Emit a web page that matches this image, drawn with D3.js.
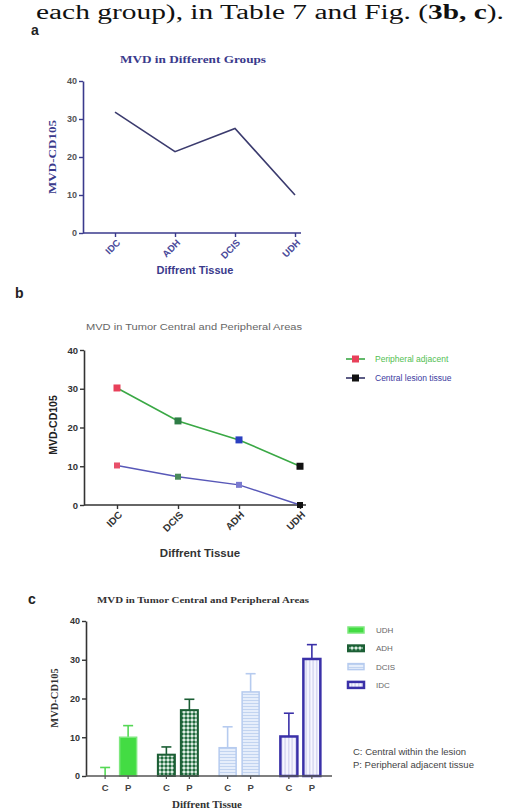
<!DOCTYPE html>
<html><head><meta charset="utf-8">
<script src="https://cdn.jsdelivr.net/npm/d3@7"></script>
<style>body{margin:0;background:#fff}svg{display:block}</style>
</head><body>
<script>
// ---------- data ----------
const yTicks = [0, 10, 20, 30, 40];
const catsA = ["IDC", "ADH", "DCIS", "UDH"];
const valsA = [31.8, 21.4, 27.5, 10.0];
const catsB = ["IDC", "DCIS", "ADH", "UDH"];
const peripheral = [30.2, 21.7, 16.8, 10.0];
const central = [10.2, 7.3, 5.2, 0.0];
const seriesB = ["Peripheral adjacent", "Central  lesion tissue"];
const groupsC = ["UDH", "ADH", "DCIS", "IDC"];
const sidesC = ["C", "P"];
const centralMean = [0.0, 5.5, 7.3, 10.2];
const centralErr = [2.2, 2.0, 5.4, 6.0];
const periphMean = [10.0, 17.0, 21.7, 30.2];
const periphErr = [3.0, 2.8, 4.7, 3.7];
const legendC = ["UDH", "ADH", "DCIS", "IDC"];
const noteC = ["C: Central within the lesion", "P: Peripheral adjacent tissue"];

const W = 528, H = 810;
const svg = d3.select("body").append("svg").attr("width", W).attr("height", H);
svg.append("rect").attr("width", W).attr("height", H).attr("fill", "#fff");

const SANS = "Liberation Sans, Arial, sans-serif";
const SERIF = "Liberation Serif, Times New Roman, serif";

// top text fragment from the source page
const topText = svg.append("text").attr("x", 36).attr("y", 19)
  .attr("font-family", SERIF).attr("font-size", 20)
  .attr("fill", "#111").attr("textLength", 468).attr("lengthAdjust", "spacingAndGlyphs");
topText.append("tspan").text("each group), in Table 7 and Fig. (");
topText.append("tspan").attr("font-weight", "bold").text("3b, c");
topText.append("tspan").text(").");

// panel letters
[["a", 31, 35], ["b", 15, 298], ["c", 28, 604]].forEach(([t, x, y]) =>
  svg.append("text").attr("x", x).attr("y", y).attr("font-family", SANS)
    .attr("font-weight", "bold").attr("font-size", 14).attr("fill", "#222").text(t));

function yAxis(g, y, x0, color, tcolor, fsize) {
  const ax = g.append("g").attr("transform", `translate(${x0},0)`)
    .call(d3.axisLeft(y).tickValues(yTicks).tickSize(4).tickSizeOuter(0).tickPadding(2));
  ax.select(".domain").attr("stroke", color).attr("stroke-width", 1.6);
  ax.selectAll(".tick line").attr("stroke", color).attr("stroke-width", 1.4);
  ax.selectAll(".tick text").attr("font-family", SANS).attr("font-weight", "bold")
    .attr("font-size", fsize).attr("fill", tcolor);
  return ax;
}

function rotLabels(xa, size, color) {
  xa.selectAll(".tick text").attr("font-family", SANS).attr("font-weight", "bold")
    .attr("font-size", size).attr("fill", color).attr("text-anchor", "end")
    .attr("y", 0).attr("dy", "0.35em").attr("transform", "translate(3,8) rotate(-45)");
}

// ---------- panel a ----------
{
  const g = svg.append("g");
  const x = d3.scalePoint().domain(catsA).range([115, 295]);
  const y = d3.scaleLinear().domain([0, 40]).range([233, 81]);
  const navy = "#3a3a8c";
  yAxis(g, y, 83, navy, "#555", 9);
  g.append("line").attr("x1", 83).attr("x2", 301).attr("y1", y(0)).attr("y2", y(0))
    .attr("stroke", navy).attr("stroke-width", 1.6);
  const xa = g.append("g").attr("transform", `translate(0,${y(0)})`)
    .call(d3.axisBottom(x).tickSize(4).tickSizeOuter(0));
  xa.select(".domain").remove();
  xa.selectAll(".tick line").attr("stroke", navy).attr("stroke-width", 1.4);
  rotLabels(xa, 9.5, "#4a4a9a");
  g.append("path").datum(valsA)
    .attr("d", d3.line().x((d, i) => x(catsA[i])).y(d => y(d)))
    .attr("fill", "none").attr("stroke", "#3b3b6e").attr("stroke-width", 1.6);
  g.append("text").attr("x", 193).attr("y", 63).attr("text-anchor", "middle")
    .attr("font-family", SERIF).attr("font-weight", "bold").attr("font-size", 10)
    .attr("fill", "#3a3a8c").attr("textLength", 146).attr("lengthAdjust", "spacingAndGlyphs")
    .text("MVD in Different Groups");
  g.append("text").attr("transform", "translate(56,157) rotate(-90)").attr("text-anchor", "middle")
    .attr("font-family", SERIF).attr("font-weight", "bold").attr("font-size", 10)
    .attr("fill", "#3a3a8c").attr("textLength", 74).attr("lengthAdjust", "spacingAndGlyphs")
    .text("MVD-CD105");
  g.append("text").attr("x", 195).attr("y", 274).attr("text-anchor", "middle")
    .attr("font-family", SANS).attr("font-weight", "bold").attr("font-size", 11)
    .attr("fill", "#3a3a8c").text("Diffrent Tissue");
}

// ---------- panel b ----------
{
  const g = svg.append("g");
  const x = d3.scalePoint().domain(catsB).range([117, 300]);
  const y = d3.scaleLinear().domain([0, 40]).range([505, 350]);
  const ax = "#333";
  yAxis(g, y, 84, ax, "#333", 9.5);
  g.append("line").attr("x1", 84).attr("x2", 306).attr("y1", y(0)).attr("y2", y(0))
    .attr("stroke", ax).attr("stroke-width", 1.6);
  const xa = g.append("g").attr("transform", `translate(0,${y(0)})`)
    .call(d3.axisBottom(x).tickSize(4).tickSizeOuter(0));
  xa.select(".domain").remove();
  xa.selectAll(".tick line").attr("stroke", ax).attr("stroke-width", 1.4);
  rotLabels(xa, 10, "#333");
  const markerCols = ["#e8405a", "#2e7d46", "#2a3fc0", "#111111"];
  const centralMarkerCols = ["#e8506a", "#4a8a5a", "#7a7ad0", "#111111"];
  const line = d3.line().x((d, i) => x(catsB[i])).y(d => y(d));
  g.append("path").datum(peripheral).attr("d", line).attr("fill", "none")
    .attr("stroke", "#3aa845").attr("stroke-width", 1.6);
  g.append("path").datum(central).attr("d", line).attr("fill", "none")
    .attr("stroke", "#5858b8").attr("stroke-width", 1.4);
  g.selectAll(".mp").data(peripheral).join("rect")
    .attr("x", (d, i) => x(catsB[i]) - 3.5).attr("y", d => y(d) - 3.5)
    .attr("width", 7).attr("height", 7).attr("fill", (d, i) => markerCols[i]);
  g.selectAll(".mc").data(central).join("rect")
    .attr("x", (d, i) => x(catsB[i]) - 3).attr("y", d => y(d) - 3)
    .attr("width", 6).attr("height", 6).attr("fill", (d, i) => centralMarkerCols[i]);
  g.append("text").attr("x", 194).attr("y", 330).attr("text-anchor", "middle")
    .attr("font-family", SANS).attr("font-size", 8.5).attr("fill", "#666")
    .attr("textLength", 216).attr("lengthAdjust", "spacingAndGlyphs")
    .text("MVD in Tumor Central and Peripheral Areas");
  g.append("text").attr("transform", "translate(57,425) rotate(-90)").attr("text-anchor", "middle")
    .attr("font-family", SANS).attr("font-weight", "bold").attr("font-size", 10.5)
    .attr("fill", "#222").text("MVD-CD105");
  g.append("text").attr("x", 200).attr("y", 557).attr("text-anchor", "middle")
    .attr("font-family", SANS).attr("font-weight", "bold").attr("font-size", 11.5)
    .attr("fill", "#333").text("Diffrent Tissue");
  // legend
  const lc = [["#3aa845", "#e8405a", "#52c052"], ["#333366", "#111", "#3a3aa0"]];
  seriesB.forEach((s, i) => {
    const yy = 359 + i * 19;
    g.append("line").attr("x1", 346).attr("x2", 365).attr("y1", yy).attr("y2", yy)
      .attr("stroke", lc[i][0]).attr("stroke-width", 1.6);
    g.append("rect").attr("x", 352).attr("y", yy - 3.5).attr("width", 7).attr("height", 7)
      .attr("fill", lc[i][1]);
    g.append("text").attr("x", 375).attr("y", yy + 3).attr("font-family", SANS)
      .attr("font-size", 8.5).attr("fill", lc[i][2]).text(s);
  });
}

// ---------- panel c ----------
{
  const g = svg.append("g");
  const defs = svg.append("defs");
  const pA = defs.append("pattern").attr("id", "padh").attr("width", 4).attr("height", 4)
    .attr("patternUnits", "userSpaceOnUse");
  pA.append("rect").attr("width", 4).attr("height", 4).attr("fill", "#dfeee4");
  pA.append("path").attr("d", "M2,0 L4,2 L2,4 L0,2 Z").attr("fill", "#1f6b3d");
  const pD = defs.append("pattern").attr("id", "pdcis").attr("width", 4).attr("height", 3)
    .attr("patternUnits", "userSpaceOnUse");
  pD.append("rect").attr("width", 4).attr("height", 3).attr("fill", "#e6eefb");
  pD.append("line").attr("x1", 0).attr("x2", 4).attr("y1", 1.5).attr("y2", 1.5)
    .attr("stroke", "#b9cdee").attr("stroke-width", 0.8);
  const pI = defs.append("pattern").attr("id", "pidc").attr("width", 3.5).attr("height", 4)
    .attr("patternUnits", "userSpaceOnUse");
  pI.append("rect").attr("width", 3.5).attr("height", 4).attr("fill", "#f6f6ff");
  pI.append("line").attr("x1", 1.7).attr("x2", 1.7).attr("y1", 0).attr("y2", 4)
    .attr("stroke", "#b4b4e0").attr("stroke-width", 0.8);
  const fills = { UDH: "#43dc43", ADH: "url(#padh)", DCIS: "url(#pdcis)", IDC: "url(#pidc)" };
  const strokes = { UDH: "#7ee87e", ADH: "#1b5e34", DCIS: "#b6cbef", IDC: "#3a30a8" };
  const sw = { UDH: 1.5, ADH: 2, DCIS: 1.5, IDC: 2.5 };
  const errCol = { UDH: "#55d855", ADH: "#1b5e34", DCIS: "#b6cbef", IDC: "#3a30a8" };

  const xg = d3.scaleBand().domain(groupsC).range([86, 331]);
  const xs = d3.scalePoint().domain(sidesC).range([-11.5, 11.5]);
  const y = d3.scaleLinear().domain([0, 40]).range([776, 621]);
  const bw = 17;
  yAxis(g, y, 86, "#333", "#333", 9);
  const rows = [];
  groupsC.forEach((grp, i) => {
    rows.push({ grp, side: "C", v: centralMean[i], e: centralErr[i] });
    rows.push({ grp, side: "P", v: periphMean[i], e: periphErr[i] });
  });
  const cx = d => xg(d.grp) + xg.bandwidth() / 2 + xs(d.side);
  rows.forEach(d => {
    const c = errCol[d.grp];
    g.append("line").attr("x1", cx(d)).attr("x2", cx(d)).attr("y1", y(d.v)).attr("y2", y(d.v + d.e))
      .attr("stroke", c).attr("stroke-width", 1.6);
    g.append("line").attr("x1", cx(d) - 5).attr("x2", cx(d) + 5).attr("y1", y(d.v + d.e)).attr("y2", y(d.v + d.e))
      .attr("stroke", c).attr("stroke-width", 1.6);
  });
  g.selectAll(".bar").data(rows.filter(d => d.v > 0)).join("rect")
    .attr("x", d => cx(d) - bw / 2).attr("y", d => y(d.v))
    .attr("width", bw).attr("height", d => y(0) - y(d.v))
    .attr("fill", d => fills[d.grp]).attr("stroke", d => strokes[d.grp])
    .attr("stroke-width", d => sw[d.grp]);
  g.append("line").attr("x1", 86).attr("x2", 332).attr("y1", y(0)).attr("y2", y(0))
    .attr("stroke", "#555").attr("stroke-width", 1.6);
  rows.forEach(d => {
    g.append("line").attr("x1", cx(d)).attr("x2", cx(d)).attr("y1", y(0)).attr("y2", y(0) + 3)
      .attr("stroke", "#555").attr("stroke-width", 1.2);
    g.append("text").attr("x", cx(d)).attr("y", 791).attr("text-anchor", "middle")
      .attr("font-family", SANS).attr("font-weight", "bold").attr("font-size", 9.5)
      .attr("fill", "#444").text(d.side);
  });
  g.append("text").attr("x", 203).attr("y", 603).attr("text-anchor", "middle")
    .attr("font-family", SERIF).attr("font-weight", "bold").attr("font-size", 9)
    .attr("fill", "#333").attr("textLength", 212).attr("lengthAdjust", "spacingAndGlyphs")
    .text("MVD in Tumor Central and Peripheral Areas");
  g.append("text").attr("transform", "translate(58,698) rotate(-90)").attr("text-anchor", "middle")
    .attr("font-family", SERIF).attr("font-weight", "bold").attr("font-size", 10.5)
    .attr("fill", "#333").text("MVD-CD105");
  g.append("text").attr("x", 207).attr("y", 808).attr("text-anchor", "middle")
    .attr("font-family", SERIF).attr("font-weight", "bold").attr("font-size", 11)
    .attr("fill", "#333").text("Diffrent Tissue");
  legendC.forEach((k, i) => {
    const yy = 630 + i * 18.3;
    g.append("rect").attr("x", 348).attr("y", yy - 3).attr("width", 16).attr("height", 6)
      .attr("fill", fills[k]).attr("stroke", strokes[k]).attr("stroke-width", sw[k]);
    g.append("text").attr("x", 376).attr("y", yy + 3).attr("font-family", SANS)
      .attr("font-size", 8).attr("fill", "#666").text(k);
  });
  noteC.forEach((t, i) => {
    g.append("text").attr("x", 353).attr("y", 755 + i * 13).attr("font-family", SANS)
      .attr("font-size", 9.5).attr("fill", "#444").text(t);
  });
}
</script>
</body></html>
